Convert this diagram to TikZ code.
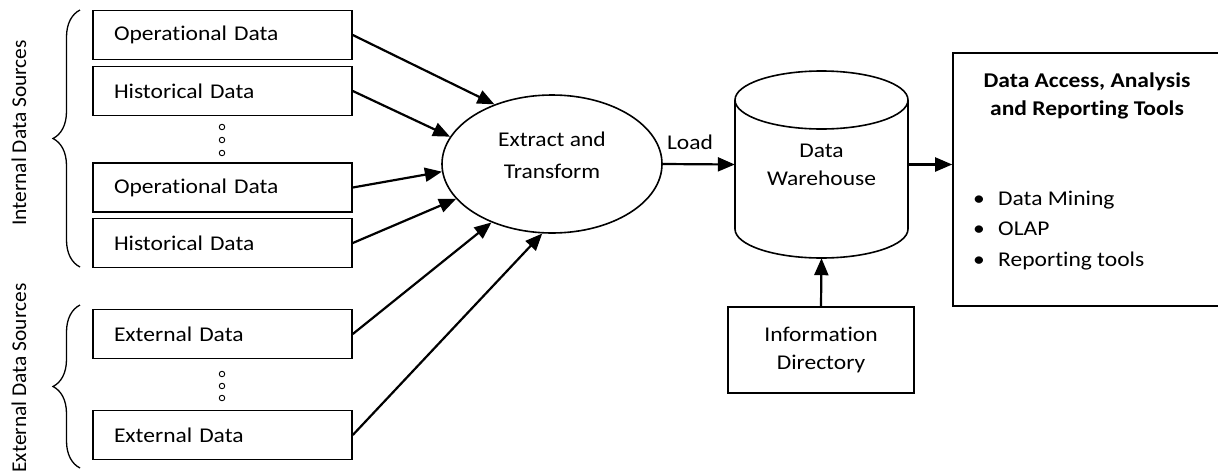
\documentclass[tikz,border=0pt]{standalone}
\usepackage{fontspec}
\setmainfont{Carlito}[FakeStretch=1.12, Ligatures=NoCommon]
\newfontfamily\rotfont{Carlito}[FakeStretch=1.02, Ligatures=NoCommon]
\usetikzlibrary{arrows.meta,decorations.pathreplacing,shapes.geometric}
\begin{document}
\begin{tikzpicture}[x=1pt,y=-1pt,
  every node/.style={font=\fontsize{21}{28}\selectfont},
  srcbox/.style={draw, line width=1.6pt, minimum width=259pt, minimum height=49pt,
    inner xsep=21pt, inner ysep=0pt, text width=217pt, align=left},
  ellbox/.style={draw, ellipse, line width=1.6pt, minimum width=220pt, minimum height=138pt, inner sep=0pt},
  plainbox/.style={draw, line width=1.6pt, inner sep=0pt, align=center},
  shapeline/.style={line width=1.6pt},
  txt/.style={inner sep=0pt, align=center},
  rottxt/.style={inner sep=0pt, rotate=90, font=\rotfont\fontsize{21}{28}\selectfont},
  smalldot/.style={draw, circle, line width=0.9pt, minimum size=5.5pt, inner sep=0pt},
  bracestyle/.style={decorate, decoration={brace, amplitude=27pt}, line width=1.3pt},
  arr/.style={-{Triangle[length=17pt,width=14pt]}, line width=2.2pt}
]
\useasboundingbox (0,0) rectangle (1218,472);

% source boxes
\node[srcbox] (op1) at (222.5,35) {Operational Data};
\node[srcbox] (hi1) at (222.5,91) {Historical Data};
\node[srcbox] (op2) at (222.5,187.5) {Operational Data};
\node[srcbox] (hi2) at (222.5,243) {Historical Data};
\node[srcbox] (ex1) at (222.5,334) {External Data};
\node[srcbox] (ex2) at (222.5,435) {External Data};

% dots
\node[smalldot] (d1) at (222,127) {};
\node[smalldot] (d2) at (222,140) {};
\node[smalldot] (d3) at (222,153) {};
\node[smalldot] (d4) at (222,374) {};
\node[smalldot] (d5) at (222,386) {};
\node[smalldot] (d6) at (222,398) {};

% braces and side labels
\coordinate (ib1) at (80,267);
\coordinate (ib2) at (80,10);
\coordinate (eb1) at (80,468);
\coordinate (eb2) at (80,305);
\draw[bracestyle] (ib1) -- (ib2);
\draw[bracestyle] (eb1) -- (eb2);
\node[rottxt] (intl) at (19,133) {Internal Data Sources};
\node[rottxt] (extl) at (19,378) {External Data Sources};

% extract and transform
\node[ellbox] (E) at (552,164) {};
\node[txt, font=\fontsize{21}{32}\selectfont] (Et) at (552,155.5) {Extract and\\Transform};

% data warehouse cylinder
\node[txt, minimum width=173pt, minimum height=187pt] (dw) at (821.5,164.5) {Data\\Warehouse};
\draw[shapeline] (821.5,100) ellipse [x radius=86.5, y radius=29];
\draw[shapeline] (735,100) -- (735,229) .. controls (735,245) and (773.7,258) .. (821.5,258)
  .. controls (869.3,258) and (908,245) .. (908,229) -- (908,100);

% information directory
\node[plainbox, minimum width=186pt, minimum height=86pt] (info) at (821,350) {Information\\Directory};

% tools box
\node[draw, line width=1.6pt, minimum width=272pt, minimum height=253pt, inner sep=0pt] (da) at (1089,179.5) {};
\node[txt, font=\bfseries\fontsize{21}{28}\selectfont] (title) at (1087,96) {Data Access, Analysis\\and Reporting Tools};
\node[txt, anchor=west, align=left, font=\fontsize{21}{30.5}\selectfont] (list) at (973,230.5)
  {\makebox[25pt][l]{•}Data Mining\\\makebox[25pt][l]{•}OLAP\\\makebox[25pt][l]{•}Reporting tools};

% connectors
\draw[arr] (op1.east) -- (E.134);
\draw[arr] (hi1.east) -- (E.165);
\draw[arr] (op2.east) -- (E.184);
\draw[arr] (hi2.east) -- (E.200);
\draw[arr] (ex1.east) -- (E.224);
\draw[arr] (ex2.east) -- (E.262.5);
\draw[arr] (E.east) -- (dw.west);
\node[txt] (load) at (690,142) {Load};
\draw[arr] (dw.east) -- (dw.east -| da.west);
\draw[arr] (info.north) -- (dw.south);
\end{tikzpicture}
\end{document}
